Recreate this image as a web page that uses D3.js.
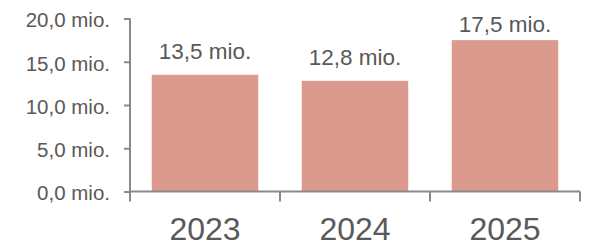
<!DOCTYPE html>
<html>
<head>
<meta charset="utf-8">
<script src="https://cdn.jsdelivr.net/npm/d3@7"></script>
<style>
  body { margin: 0; background: #fff; }
  text { font-family: "Liberation Sans", Arial, sans-serif; fill: #595959; }
</style>
</head>
<body>
<svg id="chart" width="589" height="243"></svg>
<script>
// chart data
var years = ["2023", "2024", "2025"];
var values = [13.5, 12.8, 17.5];
var yTicks = [0, 5, 10, 15, 20];

var svg = d3.select("#chart");
var margin = {left: 130, right: 9, top: 18.5, bottom: 51.5};
var width = 589 - margin.left - margin.right,
    height = 243 - margin.top - margin.bottom;

var fmt = function (v) {
    return d3.format(".1f")(v).replace(".", ",") + " mio.";
};

var x = d3.scaleBand().domain(years).range([0, width])
    .paddingInner(0.29).paddingOuter(0.145);
var y = d3.scaleLinear().domain([0, 20]).range([height, 0]);

var g = svg.append("g").attr("transform", "translate(" + margin.left + "," + margin.top + ")");

// bars
g.selectAll("rect.bar").data(values).enter().append("rect")
    .attr("class", "bar")
    .attr("x", function (d, i) { return x(years[i]); })
    .attr("y", function (d) { return y(d); })
    .attr("width", x.bandwidth())
    .attr("height", function (d) { return height - y(d); })
    .attr("fill", "#DB9A8D");

// value labels (kept inside the plot area at the top)
g.selectAll("text.val").data(values).enter().append("text")
    .attr("class", "val")
    .attr("x", function (d, i) { return x(years[i]) + x.bandwidth() / 2; })
    .attr("y", function (d) { return Math.max(y(d) - 15.5, 13); })
    .attr("text-anchor", "middle")
    .style("font-size", "22.5px")
    .text(fmt);

// y axis
var yAxis = g.append("g").call(d3.axisLeft(y).tickValues(yTicks).tickSize(6).tickPadding(14).tickFormat(fmt));
yAxis.select(".domain").attr("stroke", "#898989").attr("stroke-width", 2).attr("d", "M0," + height + "V0");
yAxis.selectAll(".tick line").attr("stroke", "#898989").attr("stroke-width", 2);
yAxis.selectAll(".tick text").style("font-size", "20.5px").attr("fill", "#595959").attr("dy", "0.41em");

// x axis with boundary ticks between categories
var xAxis = g.append("g").attr("transform", "translate(0," + height + ")");
xAxis.append("line").attr("x1", 0).attr("x2", width).attr("stroke", "#898989").attr("stroke-width", 2);
var bounds = [0].concat(years.map(function (c) { return x(c) + x.bandwidth() + x.step() * x.paddingInner() / 2; }));
bounds[bounds.length - 1] = width;
xAxis.selectAll("line.tk").data(bounds).enter().append("line")
    .attr("class", "tk")
    .attr("x1", function (d) { return d; }).attr("x2", function (d) { return d; })
    .attr("y1", 0).attr("y2", 10)
    .attr("stroke", "#898989").attr("stroke-width", 2);
xAxis.selectAll("text.cat").data(years).enter().append("text")
    .attr("class", "cat")
    .attr("x", function (d) { return x(d) + x.bandwidth() / 2; })
    .attr("y", 48.5)
    .attr("text-anchor", "middle")
    .style("font-size", "32px")
    .text(function (d) { return d; });
</script>
</body>
</html>
